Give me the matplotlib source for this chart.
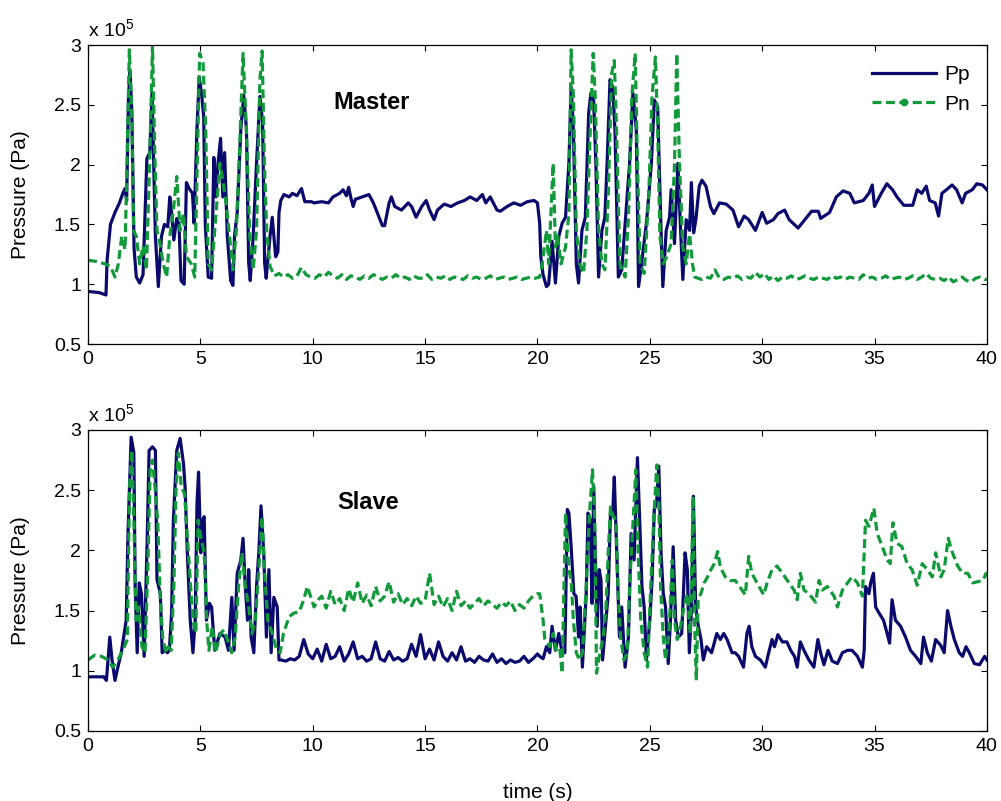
import numpy as np
import matplotlib
matplotlib.use('Agg')
import matplotlib.pyplot as plt
from matplotlib.lines import Line2D

plt.rcParams['font.family'] = ['Liberation Sans', 'DejaVu Sans']
plt.rcParams['mathtext.fontset'] = 'custom'
plt.rcParams['mathtext.rm'] = 'Liberation Sans'

# pressures in units of 1e5 Pa (time s, value)
master_pp = [(0, 0.94), (0.5, 0.93), (0.8, 0.91), (0.85, 1.2), (1.0, 1.5), (1.2, 1.6), (1.4, 1.68), (1.55, 1.76),
             (1.65, 1.8), (1.72, 1.7), (1.8, 2.55), (1.87, 2.78), (1.95, 2.45), (2.05, 1.3), (2.15, 1.06), (2.3, 1.01),
             (2.45, 1.08), (2.62, 2.05), (2.75, 2.1), (2.85, 2.6), (2.92, 2.05), (3.0, 1.4), (3.13, 0.98), (3.27, 1.4),
             (3.4, 1.5), (3.55, 1.48), (3.64, 1.73), (3.72, 1.6), (3.82, 1.37), (3.95, 1.55), (4.05, 1.5), (4.14, 1.03),
             (4.28, 1.0), (4.38, 1.85), (4.5, 1.8), (4.65, 1.76), (4.72, 1.51), (4.85, 2.3), (4.95, 2.73), (5.05, 2.6),
             (5.15, 2.4), (5.22, 1.5), (5.35, 1.06), (5.5, 1.05), (5.6, 2.06), (5.7, 1.73), (5.78, 2.0), (5.9, 2.22),
             (6.0, 1.73), (6.08, 2.1), (6.2, 1.4), (6.35, 1.03), (6.45, 0.99), (6.52, 1.4), (6.64, 1.6), (6.8, 2.29),
             (6.93, 2.58), (7.05, 2.3), (7.15, 1.18), (7.22, 1.03), (7.35, 1.4), (7.5, 2.01), (7.65, 2.57), (7.77, 2.35),
             (7.86, 1.18), (7.93, 1.05), (8.1, 1.4), (8.2, 1.56), (8.35, 1.23), (8.45, 1.27), (8.5, 1.6), (8.58, 1.7),
             (8.72, 1.75), (8.95, 1.73), (9.1, 1.76), (9.3, 1.74), (9.5, 1.8), (9.65, 1.69), (9.95, 1.69), (10.05, 1.68),
             (10.4, 1.69), (10.7, 1.68), (10.9, 1.73), (11.2, 1.76), (11.35, 1.79), (11.5, 1.74), (11.6, 1.81),
             (11.7, 1.72), (11.8, 1.65), (11.9, 1.71), (12.2, 1.73), (12.5, 1.75), (12.7, 1.68), (12.95, 1.56),
             (13.1, 1.49), (13.2, 1.49), (13.4, 1.68), (13.5, 1.73), (13.65, 1.65), (13.95, 1.62), (14.25, 1.68),
             (14.4, 1.65), (14.6, 1.56), (14.85, 1.65), (15.05, 1.70), (15.2, 1.62), (15.4, 1.54), (15.55, 1.62),
             (15.85, 1.67), (16.15, 1.65), (16.45, 1.68), (16.75, 1.70), (17.0, 1.73), (17.3, 1.70), (17.55, 1.75),
             (17.7, 1.68), (17.9, 1.73), (18.2, 1.62), (18.35, 1.61), (18.65, 1.65), (18.95, 1.68), (19.25, 1.66),
             (19.55, 1.69), (19.85, 1.70), (20.0, 1.68), (20.1, 1.51), (20.15, 1.23), (20.25, 1.08), (20.4, 0.98),
             (20.5, 1.0), (20.65, 1.36), (20.8, 1.01), (20.95, 1.40), (21.1, 1.51), (21.25, 1.56), (21.4, 2.01),
             (21.5, 2.65), (21.6, 2.29), (21.73, 1.17), (21.83, 1.01), (21.98, 1.45), (22.13, 1.56), (22.28, 2.43),
             (22.38, 2.6), (22.5, 2.54), (22.6, 2.01), (22.72, 1.06), (22.87, 1.45), (23.0, 1.56), (23.1, 2.01),
             (23.23, 2.71), (23.35, 2.65), (23.45, 2.29), (23.6, 1.06), (23.75, 1.12), (23.97, 1.68), (24.1, 2.01),
             (24.25, 2.6), (24.4, 2.29), (24.5, 0.98), (24.63, 1.17), (24.85, 1.51), (25.07, 2.01), (25.2, 2.54),
             (25.35, 2.48), (25.5, 1.45), (25.58, 0.98), (25.73, 1.45), (25.88, 1.56), (25.95, 1.79), (26.1, 1.34),
             (26.25, 2.01), (26.37, 1.45), (26.47, 1.04), (26.62, 1.54), (26.77, 1.45), (26.85, 1.85), (26.95, 1.43),
             (27.05, 1.54), (27.2, 1.82), (27.32, 1.87), (27.5, 1.82), (27.7, 1.65), (27.85, 1.59), (28.1, 1.68),
             (28.4, 1.67), (28.7, 1.62), (28.95, 1.48), (29.2, 1.57), (29.4, 1.54), (29.7, 1.45), (30.0, 1.6),
             (30.2, 1.51), (30.5, 1.54), (30.7, 1.59), (31.0, 1.62), (31.2, 1.54), (31.6, 1.47), (31.9, 1.54),
             (32.2, 1.61), (32.5, 1.61), (32.6, 1.55), (33.0, 1.6), (33.3, 1.73), (33.6, 1.78), (33.9, 1.76),
             (34.1, 1.68), (34.5, 1.7), (34.75, 1.76), (34.9, 1.83), (35.0, 1.65), (35.3, 1.76), (35.55, 1.84),
             (35.8, 1.79), (36.0, 1.73), (36.3, 1.66), (36.7, 1.66), (36.9, 1.79), (37.1, 1.76), (37.3, 1.82),
             (37.45, 1.7), (37.7, 1.68), (37.85, 1.57), (38.0, 1.76), (38.2, 1.79), (38.45, 1.83), (38.65, 1.79),
             (38.9, 1.68), (39.05, 1.76), (39.35, 1.79), (39.55, 1.84), (39.8, 1.83), (40.0, 1.79)]

master_pn_a = [(0, 1.2), (0.4, 1.19), (0.75, 1.17), (1.0, 1.15), (1.2, 1.06), (1.35, 1.17), (1.5, 1.4), (1.65, 1.29),
               (1.72, 1.87), (1.84, 2.96), (1.95, 2.43), (2.03, 1.45), (2.15, 1.4), (2.3, 1.17), (2.45, 1.32),
               (2.6, 1.12), (2.75, 2.06), (2.87, 3.0), (2.97, 2.12), (3.07, 1.45), (3.2, 1.34), (3.35, 1.17),
               (3.5, 1.06), (3.64, 1.4), (3.8, 1.62), (3.95, 1.9), (4.1, 1.45), (4.25, 1.59), (4.38, 1.23), (4.6, 1.17),
               (4.75, 1.06), (4.9, 2.35), (4.97, 2.93), (5.12, 2.85), (5.24, 2.29), (5.35, 1.17), (5.5, 1.12),
               (5.64, 1.45), (5.87, 2.01), (6.0, 1.87), (6.15, 1.67), (6.3, 1.4), (6.45, 1.12), (6.6, 1.45),
               (6.75, 2.15), (6.9, 2.93), (7.05, 2.29), (7.2, 1.4), (7.35, 1.12), (7.5, 1.45), (7.65, 2.71),
               (7.75, 2.95), (7.85, 2.01), (7.95, 1.45), (8.1, 1.15)]
master_pn_quiet1 = [1.07, 1.09, 1.06, 1.08, 1.05, 1.07, 1.14, 1.08, 1.06, 1.05,
                    1.08, 1.06, 1.10, 1.07, 1.05, 1.08, 1.04, 1.07, 1.06, 1.04,
                    1.07, 1.05, 1.08, 1.06, 1.04, 1.06, 1.05, 1.08, 1.05, 1.06,
                    1.04, 1.07, 1.05, 1.05, 1.08, 1.04, 1.06, 1.05, 1.07, 1.04,
                    1.06, 1.05, 1.04, 1.07, 1.05, 1.06, 1.04, 1.05, 1.07, 1.04,
                    1.05, 1.06, 1.04, 1.05, 1.06, 1.04, 1.05, 1.06, 1.05]
master_pn_b = [(20.1, 1.06), (20.2, 1.15), (20.4, 1.45), (20.5, 1.17), (20.7, 2.01), (20.8, 1.31), (20.9, 1.4),
               (21.05, 1.17), (21.25, 1.31), (21.4, 1.59), (21.5, 2.96), (21.6, 2.57), (21.73, 1.45), (21.88, 1.17),
               (22.05, 1.09), (22.2, 1.45), (22.35, 2.29), (22.48, 2.93), (22.57, 2.57), (22.72, 1.45), (22.87, 1.17),
               (23.0, 1.12), (23.15, 1.73), (23.3, 2.76), (23.42, 2.87), (23.52, 2.29), (23.67, 1.17), (23.9, 1.06),
               (24.05, 1.56), (24.2, 2.57), (24.35, 2.93), (24.45, 2.01), (24.57, 1.17), (24.75, 1.09), (24.95, 1.73),
               (25.1, 2.57), (25.25, 2.9), (25.35, 2.29), (25.45, 1.4), (25.6, 1.17), (25.75, 1.23), (25.95, 1.34),
               (26.1, 2.01), (26.2, 2.93), (26.32, 2.01), (26.47, 1.31), (26.62, 1.17), (26.77, 1.42), (26.9, 1.17),
               (27.0, 1.06)]
master_pn_quiet2 = [1.04, 1.06, 1.05, 1.12, 1.05, 1.04, 1.06, 1.05, 1.07, 1.04,
                    1.06, 1.05, 1.10, 1.06, 1.09, 1.04, 1.07, 1.03, 1.06, 1.05,
                    1.07, 1.04, 1.05, 1.07, 1.05, 1.04, 1.06, 1.05, 1.04, 1.07,
                    1.05, 1.06, 1.04, 1.06, 1.05, 1.04, 1.08, 1.05, 1.06, 1.04,
                    1.05, 1.07, 1.04, 1.05, 1.06, 1.04, 1.05, 1.07, 1.04, 1.06,
                    1.09, 1.05, 1.04, 1.05, 1.03, 1.06, 1.02, 1.04, 1.06, 1.03,
                    1.02, 1.05, 1.06, 1.04]

slave_pp_a = [(0, 0.95), (0.4, 0.95), (0.7, 0.95), (0.82, 0.92), (0.97, 1.28), (1.07, 1.09), (1.2, 0.92),
              (1.33, 1.03), (1.48, 1.15), (1.7, 1.42), (1.78, 2.14), (1.92, 2.94), (2.04, 2.81), (2.1, 1.7),
              (2.19, 1.15), (2.28, 1.73), (2.38, 1.64), (2.5, 1.12), (2.64, 2.14), (2.72, 2.83), (2.87, 2.86),
              (3.0, 2.83), (3.07, 1.76), (3.22, 1.64), (3.3, 1.15), (3.43, 1.17), (3.53, 1.15), (3.62, 1.17),
              (3.72, 1.48), (3.8, 2.25), (3.95, 2.83), (4.1, 2.93), (4.25, 2.72), (4.32, 2.53), (4.42, 1.98),
              (4.55, 1.42), (4.67, 1.15), (4.77, 1.42), (4.85, 2.39), (4.92, 2.65), (5.02, 1.98), (5.1, 2.25),
              (5.17, 2.28), (5.27, 1.42), (5.4, 1.56), (5.5, 1.53), (5.64, 1.17), (5.87, 1.31), (6.1, 1.28),
              (6.25, 1.17), (6.4, 1.61), (6.5, 1.17), (6.64, 1.81), (6.8, 1.92), (6.9, 2.1), (7.0, 1.7), (7.1, 1.42),
              (7.15, 1.84), (7.26, 1.28), (7.38, 1.15), (7.5, 1.7), (7.6, 1.98), (7.7, 2.37), (7.82, 1.98),
              (7.94, 1.28), (8.05, 1.84), (8.15, 1.15), (8.27, 1.61), (8.42, 1.53), (8.5, 1.09)]
slave_pp_quiet = [1.09, 1.08, 1.10, 1.09, 1.12, 1.26, 1.14, 1.10, 1.18, 1.08,
                  1.22, 1.10, 1.12, 1.20, 1.08, 1.14, 1.24, 1.10, 1.12, 1.08,
                  1.10, 1.24, 1.10, 1.08, 1.16, 1.09, 1.11, 1.08, 1.10, 1.22,
                  1.12, 1.30, 1.10, 1.18, 1.09, 1.24, 1.12, 1.08, 1.15, 1.09,
                  1.20, 1.08, 1.10, 1.07, 1.12, 1.09, 1.08, 1.14, 1.07, 1.10,
                  1.06, 1.09, 1.07, 1.08, 1.12, 1.07, 1.10, 1.14]
slave_pp_b = [(20.1, 1.12), (20.25, 1.1), (20.4, 1.2), (20.55, 1.15), (20.65, 1.37), (20.8, 1.17), (20.95, 1.31),
              (21.1, 1.15), (21.22, 1.15), (21.33, 2.34), (21.4, 2.31), (21.5, 2.03), (21.62, 1.64), (21.72, 1.62),
              (21.83, 1.28), (21.9, 1.53), (22.0, 1.03), (22.17, 1.64), (22.25, 2.31), (22.35, 2.25), (22.43, 1.56),
              (22.5, 2.53), (22.57, 1.98), (22.66, 1.37), (22.75, 1.84), (22.83, 1.75), (22.9, 1.09), (23.05, 1.42),
              (23.15, 1.64), (23.25, 2.31), (23.35, 2.31), (23.42, 2.61), (23.53, 1.98), (23.65, 1.28), (23.75, 1.53),
              (23.9, 1.03), (24.05, 1.28), (24.17, 2.14), (24.3, 1.92), (24.45, 2.77), (24.55, 2.25), (24.65, 1.7),
              (24.75, 1.53), (24.85, 1.09), (25.0, 1.42), (25.1, 1.75), (25.2, 2.34), (25.3, 2.39), (25.4, 2.7),
              (25.5, 1.98), (25.6, 1.64), (25.7, 1.53), (25.82, 1.06), (25.92, 1.42), (26.04, 2.03), (26.15, 1.42),
              (26.27, 1.28), (26.42, 1.31), (26.57, 1.98), (26.67, 1.84), (26.76, 1.15), (26.86, 1.53), (26.94, 2.45),
              (27.04, 1.53), (27.16, 1.37), (27.28, 1.26), (27.38, 1.09), (27.53, 1.2), (27.75, 1.15), (27.98, 1.31),
              (28.14, 1.26), (28.29, 1.31), (28.44, 1.26), (28.66, 1.15), (28.8, 1.15), (28.95, 1.12), (29.17, 1.03),
              (29.32, 1.31), (29.42, 1.37), (29.54, 1.2), (29.7, 1.12), (29.92, 1.09), (30.14, 1.03), (30.29, 1.15),
              (30.44, 1.26), (30.55, 1.2), (30.7, 1.3), (30.9, 1.24), (31.1, 1.24), (31.27, 1.17), (31.44, 1.12),
              (31.56, 1.03), (31.7, 1.24), (31.86, 1.17), (32.08, 1.09), (32.3, 1.03), (32.48, 1.26), (32.6, 1.15),
              (32.75, 1.05), (32.93, 1.17), (33.12, 1.08), (33.35, 1.06), (33.57, 1.15), (33.8, 1.17), (34.0, 1.17),
              (34.24, 1.12), (34.46, 1.03), (34.54, 1.17), (34.6, 1.7), (34.75, 1.64), (34.83, 1.73), (34.95, 1.81),
              (35.05, 1.53), (35.2, 1.48), (35.4, 1.42), (35.56, 1.31), (35.67, 1.23), (35.78, 1.59), (35.93, 1.42),
              (36.16, 1.37), (36.38, 1.28), (36.6, 1.17), (36.83, 1.12), (37.06, 1.06), (37.18, 1.28), (37.35, 1.15),
              (37.53, 1.08), (37.72, 1.26), (37.95, 1.21), (38.1, 1.15), (38.25, 1.5), (38.4, 1.37), (38.55, 1.26),
              (38.77, 1.15), (38.92, 1.12), (39.07, 1.2), (39.22, 1.15), (39.44, 1.06), (39.67, 1.05), (39.9, 1.12),
              (40.0, 1.09)]

slave_pn_a = [(0, 1.09), (0.3, 1.13), (0.6, 1.12), (0.9, 1.09), (1.1, 1.03), (1.33, 1.09), (1.55, 1.17),
              (1.75, 1.26), (1.85, 2.53), (1.95, 2.83), (2.04, 2.25), (2.14, 1.42), (2.25, 1.53), (2.4, 1.2),
              (2.54, 1.15), (2.66, 1.84), (2.77, 2.69), (2.87, 2.75), (2.98, 2.53), (3.1, 2.25), (3.22, 1.59),
              (3.32, 1.28), (3.47, 1.15), (3.57, 1.2), (3.7, 1.17), (3.82, 1.7), (3.92, 2.53), (4.02, 2.81),
              (4.15, 2.53), (4.3, 2.47), (4.42, 2.11), (4.52, 1.84), (4.67, 1.42), (4.8, 1.31), (4.9, 2.25),
              (5.02, 2.11), (5.17, 1.98), (5.28, 1.42), (5.38, 1.17), (5.53, 1.37), (5.67, 1.15), (5.9, 1.31),
              (6.05, 1.34), (6.2, 1.26), (6.4, 1.15), (6.55, 1.28), (6.7, 1.7), (6.85, 1.98), (7.0, 1.7), (7.15, 1.53),
              (7.3, 1.31), (7.45, 1.42), (7.6, 1.84), (7.75, 2.28), (7.85, 1.84), (8.0, 1.42), (8.2, 1.31), (8.4, 1.17),
              (8.55, 1.15), (8.7, 1.31), (8.95, 1.45), (9.17, 1.48), (9.4, 1.49), (9.6, 1.59), (9.76, 1.70),
              (9.9, 1.62), (10.06, 1.53), (10.25, 1.59)]
slave_pn_quiet = [1.62, 1.52, 1.66, 1.55, 1.60, 1.50, 1.68, 1.57, 1.73, 1.56,
                  1.63, 1.54, 1.70, 1.58, 1.62, 1.74, 1.57, 1.64, 1.55, 1.60,
                  1.54, 1.62, 1.56, 1.58, 1.81, 1.55, 1.62, 1.53, 1.60, 1.50,
                  1.66, 1.54, 1.58, 1.52, 1.56, 1.60, 1.54, 1.58, 1.55, 1.52,
                  1.57, 1.54, 1.58, 1.50, 1.55, 1.52, 1.58, 1.62]
slave_pn_b = [(20.0, 1.64), (20.1, 1.64), (20.25, 1.42), (20.33, 1.26), (20.55, 1.2), (20.7, 1.31), (20.85, 1.15),
              (21.0, 1.17), (21.1, 0.98), (21.15, 1.42), (21.25, 2.31), (21.4, 1.84), (21.5, 1.75), (21.6, 1.42),
              (21.73, 1.15), (21.87, 1.09), (22.0, 1.15), (22.17, 1.7), (22.32, 2.31), (22.45, 2.67), (22.55, 2.25),
              (22.63, 0.98), (22.78, 1.15), (22.93, 1.28), (23.05, 1.53), (23.15, 1.98), (23.25, 2.36), (23.38, 2.28),
              (23.5, 2.25), (23.58, 1.7), (23.7, 1.28), (23.85, 1.09), (24.0, 1.15), (24.1, 1.7), (24.22, 2.11),
              (24.38, 2.67), (24.48, 1.98), (24.6, 1.42), (24.75, 1.15), (24.9, 1.03), (25.04, 1.7), (25.16, 2.2),
              (25.31, 2.71), (25.4, 2.39), (25.48, 1.7), (25.6, 1.28), (25.7, 1.09), (25.85, 1.31), (26.0, 1.92),
              (26.1, 1.42), (26.22, 1.26), (26.37, 1.37), (26.52, 1.53), (26.67, 1.64), (26.8, 1.31), (26.93, 2.45),
              (26.99, 1.42), (27.07, 0.92), (27.15, 1.59), (27.27, 1.64), (27.42, 1.73), (27.57, 1.78), (27.72, 1.84),
              (27.87, 1.89), (28.02, 1.99), (28.14, 1.86), (28.36, 1.78), (28.58, 1.75), (28.8, 1.75), (29.0, 1.7),
              (29.25, 1.63), (29.4, 1.95), (29.54, 1.81), (29.77, 1.73), (30.07, 1.63), (30.22, 1.73), (30.44, 1.84),
              (30.66, 1.87), (30.9, 1.81), (31.2, 1.73), (31.42, 1.67), (31.56, 1.59), (31.7, 1.81), (31.86, 1.67),
              (32.08, 1.64), (32.38, 1.57), (32.53, 1.75), (32.68, 1.67), (32.9, 1.7), (33.2, 1.62), (33.35, 1.53),
              (33.57, 1.67), (33.8, 1.73), (34.0, 1.78), (34.24, 1.73), (34.46, 1.62), (34.6, 2.25), (34.75, 2.2),
              (34.97, 2.35), (35.12, 2.14), (35.35, 2.03), (35.56, 1.92), (35.7, 1.89), (35.82, 2.23), (36.0, 2.06),
              (36.22, 2.03), (36.45, 1.89), (36.67, 1.84), (36.9, 1.71), (37.12, 1.89), (37.35, 1.84), (37.57, 1.78),
              (37.72, 1.98), (37.95, 1.78), (38.1, 1.84), (38.28, 2.1), (38.47, 1.98), (38.7, 1.87), (38.92, 1.81),
              (39.15, 1.81), (39.37, 1.73), (39.6, 1.74), (39.82, 1.75), (39.97, 1.81), (40.0, 1.75)]

yticks = [0.5, 1, 1.5, 2, 2.5, 3]
ytick_labels = ['0.5', '1', '1.5', '2', '2.5', '3']
xticks = [0, 5, 10, 15, 20, 25, 30, 35, 40]


def pairs(p):
    a = np.array(p, dtype=float)
    return a[:, 0], a[:, 1]


def quiet(t0, dt, vals):
    return t0 + dt * np.arange(len(vals)), np.array(vals)


def join(*parts):
    t = np.concatenate([p[0] for p in parts])
    v = np.concatenate([p[1] for p in parts])
    return t, v


m_pp = pairs(master_pp)
m_pn = join(pairs(master_pn_a), quiet(8.3, 0.2, master_pn_quiet1), pairs(master_pn_b),
            quiet(27.3, 0.2, master_pn_quiet2), (np.array([40.0]), np.array([1.04])))
s_pp = join(pairs(slave_pp_a), quiet(8.6, 0.2, slave_pp_quiet), pairs(slave_pp_b))
s_pn = join(pairs(slave_pn_a), quiet(10.4, 0.2, slave_pn_quiet), pairs(slave_pn_b))

c_pp = '#0a0a6e'
c_pn = '#119a3a'
dash = (0, (2.8, 1.4))

fig = plt.figure(figsize=(10.01, 8.01), dpi=100)
ax1 = fig.add_axes([0.0879, 0.5705, 0.898, 0.3733])
ax2 = fig.add_axes([0.0879, 0.0874, 0.898, 0.3758])

for ax, pp, pn, name, npos in [(ax1, m_pp, m_pn, 'Master', (10.9, 2.52)),
                               (ax2, s_pp, s_pn, 'Slave', (11.1, 2.40))]:
    ax.plot(pp[0], pp[1], color=c_pp, lw=2.3)
    ax.plot(pn[0], pn[1], color=c_pn, lw=2.3, linestyle=dash)
    ax.set_xlim(0, 40)
    ax.set_ylim(0.5, 3)
    ax.set_xticks(xticks)
    ax.set_yticks(yticks)
    ax.set_yticklabels(ytick_labels)
    ax.tick_params(direction='in', top=True, right=True, length=4, width=0.8,
                   labelsize=14, pad=5)
    for s in ax.spines.values():
        s.set_linewidth(0.9)
    ax.set_ylabel('Pressure (Pa)', fontsize=15, labelpad=17)
    ax.text(0, 1.012, r'x 10$^{5}$', transform=ax.transAxes, fontsize=14,
            ha='left', va='bottom')
    ax.text(npos[0], npos[1], name, fontsize=17, fontweight='bold', va='center')

ax2.set_xlabel('time (s)', fontsize=15, labelpad=20)

handles = [Line2D([], [], color=c_pp, lw=2.3),
           Line2D([], [], color=c_pn, lw=2.3, linestyle=dash, marker='.', markersize=9)]
ax1.legend(handles, ['Pp', 'Pn'], loc='upper right', bbox_to_anchor=(0.991, 0.96),
           frameon=False, fontsize=15, handlelength=3.1, handletextpad=0.4,
           labelspacing=0.5, borderaxespad=0, numpoints=1)

fig.savefig('out.png', dpi=100)
